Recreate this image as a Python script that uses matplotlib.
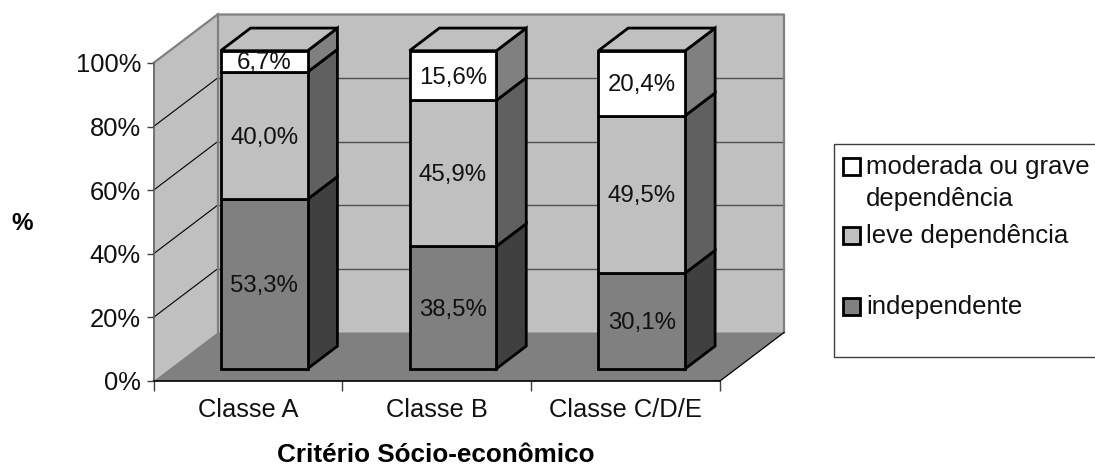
import matplotlib
matplotlib.use("Agg")
import matplotlib.pyplot as plt
from matplotlib.patches import Polygon, Rectangle

plt.rcParams['font.family'] = ['Liberation Sans', 'DejaVu Sans']

classes = ["Classe A", "Classe B", "Classe C/D/E"]
independente = [53.3, 38.5, 30.1]
leve = [40.0, 45.9, 49.5]
grave = [6.7, 15.6, 20.4]
y_ticks = [0, 20, 40, 60, 80, 100]
y_labels = ["0%", "20%", "40%", "60%", "80%", "100%"]
legend_labels = ["moderada ou grave\ndependência", "leve dependência", "independente"]

W, H = 1095, 466
# front plane of the plot box, in pixels
LEFT, RIGHT, BOTTOM, TOP = 153.5, 720, 381, 63
# one unit of depth moves this far in data units
DX = 64.0 / ((RIGHT - LEFT) / 3)
DY = 48.5 / ((BOTTOM - TOP) / 100)

BAR_W = 0.46
BAR_D0, BAR_D1 = 0.253, 0.72
BAR_LW = 2.0


def pt(x, v, d):
    return (x + d * DX, v + d * DY)


def quad(ax, pts, face, edge="none", lw=0, z=1):
    ax.add_patch(Polygon(pts, closed=True, facecolor=face, edgecolor=edge,
                         linewidth=lw, zorder=z, clip_on=False,
                         joinstyle="miter"))


def draw_box(ax):
    # side wall, back wall, floor
    quad(ax, [pt(0, 0, 0), pt(0, 100, 0), pt(0, 100, 1), pt(0, 0, 1)], "#c0c0c0")
    quad(ax, [pt(0, 0, 1), pt(0, 100, 1), pt(3, 100, 1), pt(3, 0, 1)], "#c0c0c0")
    quad(ax, [pt(0, 0, 0), pt(0, 0, 1), pt(3, 0, 1), pt(3, 0, 0)], "#808080")

    for v in y_ticks[1:-1]:
        ax.plot(*zip(pt(0, v, 0), pt(0, v, 1)), color="black", lw=0.8,
                zorder=2, clip_on=False)
        ax.plot(*zip(pt(0, v, 1), pt(3, v, 1)), color="#505050", lw=1.0,
                zorder=2, clip_on=False)

    # grey outline of the walls
    ax.plot(*zip(pt(0, 100, 0), pt(0, 100, 1), pt(3, 100, 1), pt(3, 0, 1)),
            color="#808080", lw=1.6, zorder=3, clip_on=False)
    ax.plot(*zip(pt(0, 0, 1), pt(0, 100, 1)), color="#808080", lw=1.6,
            zorder=3, clip_on=False)
    ax.plot(*zip(pt(3, 0, 0), pt(3, 0, 1)), color="black", lw=0.9,
            zorder=3, clip_on=False)


def draw_bar(ax, i, values):
    segments = [("#808080", "#404040"), ("#c0c0c0", "#606060"), ("#ffffff", "#808080")]
    x0 = i + 0.5 - BAR_W / 2
    x1 = i + 0.5 + BAR_W / 2
    base = 0
    for v, (front, side) in zip(values, segments):
        t = base + v
        quad(ax, [pt(x1, base, BAR_D0), pt(x1, t, BAR_D0),
                  pt(x1, t, BAR_D1), pt(x1, base, BAR_D1)],
             side, "black", BAR_LW, 5)
        quad(ax, [pt(x0, base, BAR_D0), pt(x0, t, BAR_D0),
                  pt(x1, t, BAR_D0), pt(x1, base, BAR_D0)],
             front, "black", BAR_LW, 6)
        cx, cy = pt(i + 0.5, base + v / 2, BAR_D0)
        ax.annotate(("%.1f%%" % v).replace(".", ","), (cx, cy), xytext=(0, -1.5),
                    textcoords="offset points", ha="center", va="center",
                    fontsize=17.3, color="#111111", zorder=8,
                    annotation_clip=False)
        base = t
    quad(ax, [pt(x0, base, BAR_D0), pt(x0, base, BAR_D1),
              pt(x1, base, BAR_D1), pt(x1, base, BAR_D0)],
         "#c0c0c0", "black", BAR_LW, 5)


fig = plt.figure(figsize=(W / 100, H / 100), dpi=100)
ax = fig.add_axes([LEFT / W, 1 - BOTTOM / H, (RIGHT - LEFT) / W, (BOTTOM - TOP) / H])
ax.set_xlim(0, 3)
ax.set_ylim(0, 100)
ax.patch.set_visible(False)
for s in ("top", "right"):
    ax.spines[s].set_visible(False)
ax.spines["left"].set_color("#606060")
ax.spines["left"].set_linewidth(1.2)
ax.spines["bottom"].set_color("black")
ax.spines["bottom"].set_linewidth(1.2)
ax.spines["left"].set_zorder(4)
ax.spines["bottom"].set_zorder(4)

ax.set_yticks(y_ticks)
ax.set_yticklabels(y_labels, fontsize=18.4, color="#111111")
ax.tick_params(axis="y", length=5, width=1, color="#404040", pad=4)
ax.set_xticks(range(4))
ax.set_xticklabels([])
ax.tick_params(axis="x", which="major", length=7, width=1, color="#404040")
ax.set_xticks([0.5, 1.5, 2.5], minor=True)
ax.set_xticklabels(classes, minor=True, fontsize=18.4, color="#111111")
ax.tick_params(axis="x", which="minor", length=0, pad=12)

draw_box(ax)
for i in range(3):
    draw_bar(ax, i, [independente[i], leve[i], grave[i]])

# overlay in pixel units for titles and the legend box
ov = fig.add_axes([0, 0, 1, 1])
ov.set_xlim(0, W)
ov.set_ylim(H, 0)
ov.axis("off")
ov.patch.set_visible(False)

ov.text(22, 224, "%", fontsize=17.5, fontweight="bold", ha="center", va="center")
ov.text(436, 455, "Critério Sócio-econômico", fontsize=18.8, fontweight="bold",
        ha="center", va="center")

ov.add_patch(Rectangle((833.5, 144), 300, 213, facecolor="white",
                       edgecolor="#404040", linewidth=1.0))
swatches = ["#ffffff", "#c0c0c0", "#808080"]
swatch_y = [158, 227, 298]
text_y = [183, 236, 307]
line_gap = [1.43, 1.0, 1.0]
for c, sy, ty, gap, label in zip(swatches, swatch_y, text_y, line_gap, legend_labels):
    ov.add_patch(Rectangle((842.5, sy), 17, 17, facecolor=c, edgecolor="black",
                           linewidth=2.0))
    ov.text(866, ty, label, fontsize=18.5, color="#111111", ha="left",
            va="center", linespacing=gap)

fig.savefig("out.png", dpi=100)
